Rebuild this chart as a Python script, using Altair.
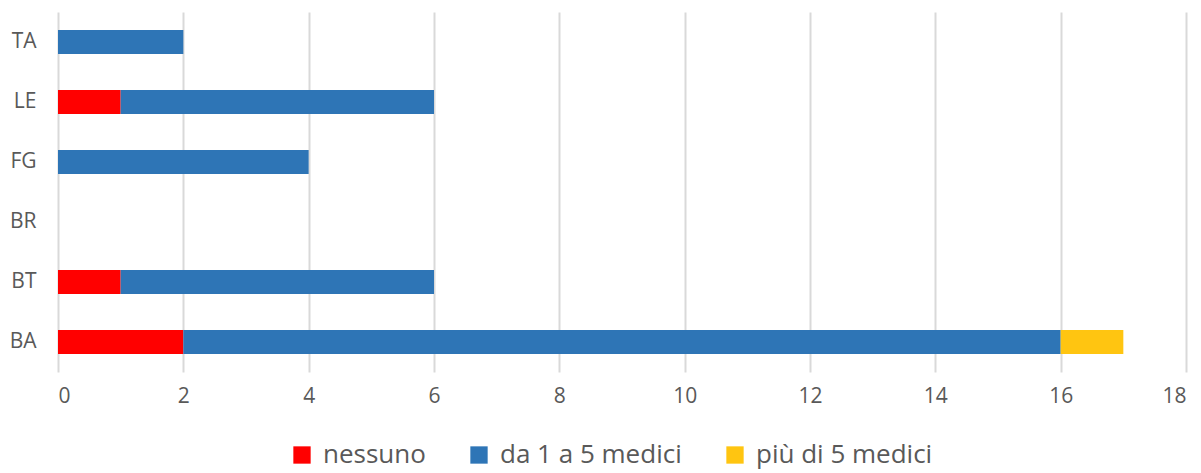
import altair as alt
import pandas as pd

province = ["TA", "LE", "FG", "BR", "BT", "BA"]
nessuno = [0, 1, 0, 0, 1, 2]
da1a5 = [2, 5, 4, 0, 5, 14]
piu5 = [0, 0, 0, 0, 0, 1]
series = ["nessuno", "da 1 a 5 medici", "più di 5 medici"]
colors = ["#FF0000", "#2E75B6", "#FFC511"]

rows = []
for i, p in enumerate(province):
    for k, (s, vals) in enumerate(zip(series, [nessuno, da1a5, piu5])):
        rows.append({"provincia": p, "serie": s, "valore": vals[i], "ordine": k})
df = pd.DataFrame(rows)

FONT = "Open Sans"
GRAY = "#595959"

chart = alt.Chart(df).mark_bar(size=24).encode(
    y=alt.Y("provincia:N", sort=province, title=None,
            scale=alt.Scale(paddingInner=0.6, paddingOuter=0.3),
            axis=alt.Axis(labelFontSize=21, labelColor=GRAY, labelFont=FONT,
                          ticks=False, domain=False, labelPadding=22, grid=False)),
    x=alt.X("valore:Q", stack="zero", title=None,
            scale=alt.Scale(domain=[0, 18], nice=False),
            axis=alt.Axis(values=list(range(0, 19, 2)), labelFontSize=21, labelColor=GRAY,
                          labelFont=FONT, ticks=False, domain=False, labelPadding=13,
                          grid=True, gridColor="#D9D9D9", gridWidth=2)),
    color=alt.Color("serie:N", sort=series,
                    scale=alt.Scale(domain=series, range=colors),
                    legend=alt.Legend(orient="none", direction="horizontal", title=None,
                                      legendX=231, legendY=430,
                                      labelFontSize=26, labelColor=GRAY, labelFont=FONT,
                                      labelLimit=0,
                                      symbolType="square", symbolSize=300,
                                      symbolStrokeWidth=0, labelOffset=8,
                                      columnPadding=40)),
    order=alt.Order("ordine:Q"),
).properties(
    width=1128, height=360,
    autosize=alt.AutoSizeParams(type="none"),
    padding={"left": 50, "top": 4, "right": 6, "bottom": 99},
).configure_view(stroke=None)

chart.save("out.html", embed_options={"renderer": "svg", "actions": False})
